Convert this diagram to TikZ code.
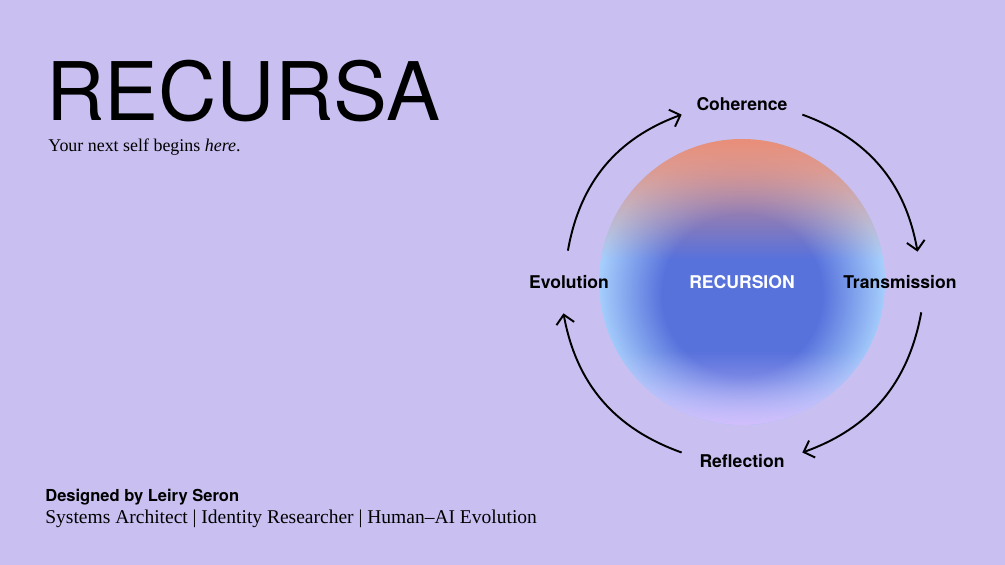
\documentclass[tikz,border=0pt]{standalone}
\usepackage{fontspec}
\setmainfont{Liberation Serif}
\setsansfont{TeX Gyre Heros}
\usetikzlibrary{arrows.meta,fadings}

\definecolor{paper}{RGB}{201,192,241}
\definecolor{orbcore}{RGB}{88,114,220}
\definecolor{orbedge}{RGB}{166,206,252}
\definecolor{orbtop}{RGB}{234,142,120}
\definecolor{orbbase}{RGB}{210,190,252}

% masks: white = opaque, black = clear
\pgfdeclareverticalshading{masktop}{100bp}{rgb(0bp)=(0,0,0); rgb(54bp)=(0,0,0); rgb(62bp)=(0.4,0.4,0.4); rgb(69bp)=(0.78,0.78,0.78); rgb(75bp)=(1,1,1); rgb(100bp)=(1,1,1)}
\pgfdeclareverticalshading{maskbottom}{100bp}{rgb(0bp)=(1,1,1); rgb(25bp)=(1,1,1); rgb(29bp)=(0.65,0.65,0.65); rgb(33bp)=(0.3,0.3,0.3); rgb(38bp)=(0,0,0); rgb(100bp)=(0,0,0)}
\tikzfading[name=fadetop, shading=masktop]
\tikzfading[name=fadebottom, shading=maskbottom]
\pgfdeclareradialshading{orbshade}{\pgfpoint{0bp}{-3bp}}{color(0bp)=(orbcore); color(14bp)=(orbcore); color(25bp)=(orbedge); color(50bp)=(orbedge)}

\begin{document}
\begin{tikzpicture}[
    stage/.style={font=\sffamily\bfseries\fontsize{10}{12}\selectfont, inner sep=0pt},
    flow/.style={-{Straight Barb[length=1.8mm,width=3.6mm]}, line width=1.1pt, bend left=30},
    orb/.style={circle, minimum size=5.72cm, inner sep=0pt, shading=orbshade, text=white,
        font=\sffamily\bfseries\fontsize{10}{12}\selectfont}
]
    % Background
    \fill[paper] (0,0) rectangle (20.1,11.3);
    % Title
    \node[anchor=base west, inner sep=0pt, font=\sffamily\fontsize{46}{50}\selectfont] (title) at (0.92,8.88) {RECURSA};
    \node[anchor=base west, inner sep=0pt, font=\fontsize{10.2}{12}\selectfont] (tagline) at (0.96,8.26) {Your next self begins \emph{here}.};
    % Credits
    \node[anchor=base west, inner sep=0pt, font=\sffamily\bfseries\fontsize{9.4}{11}\selectfont] (designer) at (0.9,1.26) {Designed by Leiry Seron};
    \node[anchor=base west, inner sep=0pt, font=\fontsize{11.1}{13}\selectfont] (roles) at (0.9,0.82) {Systems Architect | Identity Researcher | Human--AI Evolution};
    % Sphere
    \node[orb, path picture={
            \fill[orbtop, path fading=fadetop] (path picture bounding box.south west) rectangle (path picture bounding box.north east);
            \fill[orbbase, path fading=fadebottom] (path picture bounding box.south west) rectangle (path picture bounding box.north east);
        }] (sphere) at (14.84,5.66) {RECURSION};
    % Stages
    \node[stage, minimum width=2.4cm, minimum height=0.44cm] (coh) at (14.84,9.22) {Coherence};
    \node[stage, minimum width=2.2cm, minimum height=1.2cm] (trans) at (18.0,5.66) {Transmission};
    \node[stage, minimum width=2.4cm, minimum height=0.36cm] (refl) at (14.84,2.08) {Reflection};
    \node[stage, minimum width=1.6cm, minimum height=1.24cm] (evo) at (11.38,5.66) {Evolution};
    % Cycle arrows
    \draw[flow] (evo.92) to (coh.190);
    \draw[flow] (coh.-10) to (trans.60);
    \draw[flow] (trans.-55) to (refl.8);
    \draw[flow] (refl.172) to (evo.-100);
\end{tikzpicture}
\end{document}
